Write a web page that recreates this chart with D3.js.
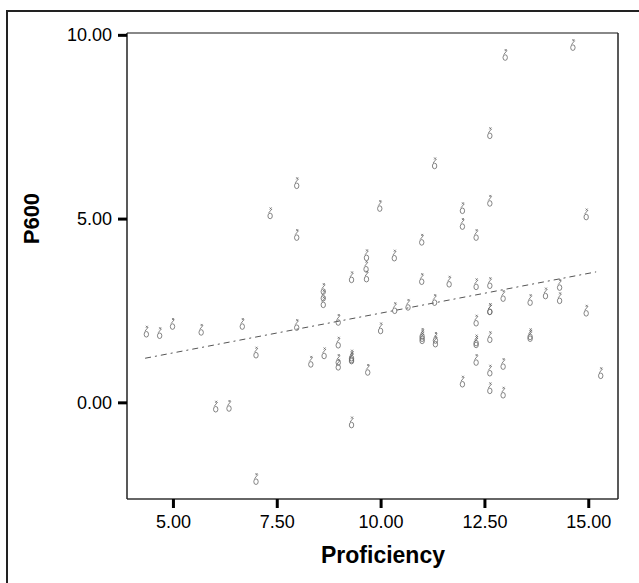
<!DOCTYPE html>
<html>
<head>
<meta charset="utf-8">
<script src="https://cdn.jsdelivr.net/npm/d3@7"></script>
<style>
  body { margin: 0; background: #fff; }
  svg { display: block; }
</style>
</head>
<body>
<div id="chart"></div>
<script>
// Proficiency (x) and P600 (y)
var proficiency = [4.36, 4.68, 4.99, 5.68, 6.03, 6.35, 6.67, 7.0, 7.0, 7.34,
  7.98, 7.98, 7.98, 8.32, 8.62, 8.62, 8.62, 8.64, 8.98, 8.98, 8.98, 8.98,
  9.3, 9.3, 9.3, 9.3, 9.3, 9.65, 9.66, 9.66, 9.69, 9.98, 10.0, 10.33, 10.34,
  10.66, 10.99, 10.99, 11.0, 11.0, 11.0, 11.3, 11.3, 11.32, 11.32, 11.65,
  11.97, 11.97, 11.97, 12.3, 12.3, 12.3, 12.3, 12.3, 12.3, 12.63, 12.63,
  12.63, 12.63, 12.63, 12.63, 12.63, 12.63, 12.95, 12.95, 12.95, 13.0,
  13.6, 13.6, 13.6, 13.97, 14.31, 14.31, 14.63, 14.95, 14.95, 15.3];
var p600 = [1.92, 1.88, 2.13, 1.97, -0.12, -0.10, 2.13, 1.35, -2.09, 5.14,
  2.10, 5.96, 4.55, 1.10, 3.08, 2.90, 2.72, 1.33, 2.24, 1.62, 1.15, 1.02,
  3.40, 1.22, 1.27, 1.19, -0.55, 3.69, 4.0, 3.42, 0.88, 5.34, 2.01, 3.99, 2.56,
  2.65, 4.42, 3.35, 1.80, 1.86, 1.74, 6.5, 2.78, 1.65, 1.75, 3.28,
  5.28, 4.85, 0.56, 4.55, 3.21, 2.22, 1.68, 1.63, 1.15, 7.32, 5.48,
  3.24, 2.53, 1.77, 0.86, 0.38, 2.53, 2.89, 1.04, 0.26, 9.45,
  2.78, 1.80, 1.85, 2.96, 3.19, 2.83, 9.72, 5.11, 2.49, 0.79];
// fit line end points as drawn in the reference
var fitX = [4.33, 15.19];
var fitY = [1.20, 3.55];
var xTicks = [5, 7.5, 10, 12.5, 15];
var yTicks = [0, 5, 10];

var W = 639, H = 583;
var margin = {top: 33, right: 21, bottom: 84, left: 127};
var width = W - margin.left - margin.right,
    height = H - margin.top - margin.bottom;
var font = "'Liberation Sans', Arial, sans-serif";

var svg = d3.select("#chart").append("svg")
  .attr("width", W).attr("height", H);

// outer frame
svg.append("rect")
  .attr("x", 7).attr("y", 11).attr("width", 660).attr("height", 620)
  .attr("fill", "none").attr("stroke", "#222").attr("stroke-width", 2);

var g = svg.append("g")
  .attr("transform", "translate(" + margin.left + "," + margin.top + ")");

var x = d3.scaleLinear().domain([3.894, 15.716]).range([0, width]);
var y = d3.scaleLinear().domain([-2.63, 10.05]).range([height, 0]);

// plot box
g.append("line").attr("x1", 0).attr("x2", width).attr("y1", 0).attr("y2", 0)
  .attr("stroke", "#888").attr("stroke-width", 2);
g.append("line").attr("x1", 0).attr("x2", width).attr("y1", height).attr("y2", height)
  .attr("stroke", "#666").attr("stroke-width", 2);
g.append("line").attr("x1", 0).attr("x2", 0).attr("y1", 0).attr("y2", height)
  .attr("stroke", "#222").attr("stroke-width", 1.5);
g.append("line").attr("x1", width).attr("x2", width).attr("y1", 0).attr("y2", height)
  .attr("stroke", "#222").attr("stroke-width", 1.5);

var xAxis = g.append("g")
  .attr("transform", "translate(0," + height + ")")
  .call(d3.axisBottom(x).tickValues(xTicks).tickFormat(d3.format(".2f"))
    .tickSize(9).tickPadding(7));
var yAxis = g.append("g")
  .call(d3.axisLeft(y).tickValues(yTicks).tickFormat(d3.format(".2f"))
    .tickSize(9).tickPadding(6));

[xAxis, yAxis].forEach(function(a) {
  a.select(".domain").remove();
  a.selectAll(".tick line").attr("stroke", "#000").attr("stroke-width", 3);
  a.selectAll(".tick text")
    .style("font-family", font)
    .style("font-size", "18px").attr("fill", "#000");
});

// axis titles
g.append("text")
  .attr("x", 383 - margin.left).attr("y", 563 - margin.top)
  .attr("text-anchor", "middle")
  .style("font-family", font)
  .style("font-size", "23px").style("font-weight", "bold")
  .text("Proficiency");
g.append("text")
  .attr("transform", "translate(" + (39 - margin.left) + "," + y(5) + ") rotate(-90)")
  .attr("text-anchor", "middle")
  .style("font-family", font)
  .style("font-size", "22px").style("font-weight", "bold")
  .text("P600");

// fit line
g.append("line")
  .attr("x1", x(fitX[0])).attr("y1", y(fitY[0]))
  .attr("x2", x(fitX[1])).attr("y2", y(fitY[1]))
  .attr("stroke", "#555").attr("stroke-width", 1)
  .attr("stroke-dasharray", "6,4,2,4");

// markers: little sunflower-ish glyphs like the SPSS export
var glyph = "M-2.2,2.5a2.2,2.8 0 1,0 4.4,0a2.2,2.8 0 1,0 -4.4,0" +
  "M-1.5,-0.5L1.8,-4.5M-0.5,-6L1.5,-4M1.5,-6L-0.5,-4";
g.selectAll("path.pt")
  .data(d3.range(proficiency.length))
  .enter().append("path")
  .attr("class", "pt")
  .attr("transform", function(i) { return "translate(" + x(proficiency[i]) + "," + y(p600[i]) + ")"; })
  .attr("d", glyph)
  .attr("fill", "none").attr("stroke", "#666").attr("stroke-width", 0.8);
</script>
</body>
</html>
